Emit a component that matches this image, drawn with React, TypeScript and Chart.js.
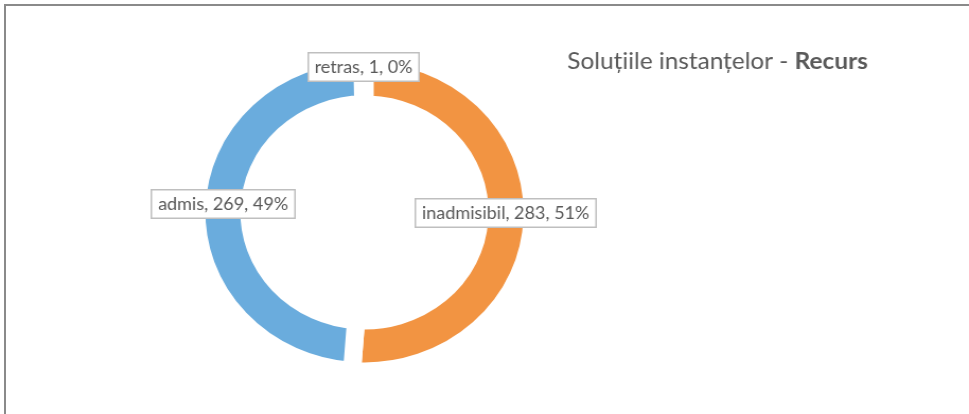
import { useEffect, useRef } from "react";
import { Chart, registerables } from "chart.js";

Chart.register(...registerables);

const categories = ["inadmisibil", "admis", "retras"];
const values = [283, 269, 1];
const colors = ["#F29442", "#6AACDD", "#A5A5A5"];
const titleNormal = "Soluțiile instanțelor - ";
const titleBold = "Recurs";

const FONT = "Lato, 'Open Sans', sans-serif";
const W = 914;
const H = 414;
const SX = 969 / W;

const labelPlugin = {
  id: "sliceLabels",
  afterDatasetsDraw(chart: any) {
    const ctx = chart.ctx as CanvasRenderingContext2D;
    const meta = chart.getDatasetMeta(0);
    const total = values.reduce((a, b) => a + b, 0);
    ctx.save();
    ctx.font = `17px ${FONT}`;
    meta.data.forEach((arc: any, i: number) => {
      const p = arc.getProps(["x", "y", "startAngle", "endAngle", "innerRadius", "outerRadius"], true);
      const mid = (p.startAngle + p.endAngle) / 2;
      let r = (p.innerRadius + p.outerRadius) / 2;
      if (p.endAngle - p.startAngle < 0.1) r += 8;
      const cx = p.x + Math.cos(mid) * r;
      const cy = p.y + Math.sin(mid) * r - 4;
      const text = `${categories[i]}, ${values[i]}, ${Math.round((values[i] / total) * 100)}%`;
      const tw = ctx.measureText(text).width;
      const bw = Math.round(tw + 14);
      const bh = 30;
      const bx = Math.round(cx - bw / 2);
      const by = Math.round(cy - bh / 2);
      ctx.fillStyle = "#ffffff";
      ctx.fillRect(bx, by, bw, bh);
      ctx.strokeStyle = "#BFBFBF";
      ctx.lineWidth = 1.5;
      ctx.strokeRect(bx + 0.75, by + 0.75, bw - 1.5, bh - 1.5);
      ctx.fillStyle = "#595959";
      ctx.textAlign = "center";
      ctx.textBaseline = "middle";
      ctx.fillText(text, bx + bw / 2, by + bh / 2 + 1);
    });
    ctx.textAlign = "left";
    ctx.textBaseline = "alphabetic";
    ctx.fillStyle = "#595959";
    ctx.font = `23px ${FONT}`;
    const tx = 535;
    const ty = 69;
    ctx.fillText(titleNormal, tx, ty);
    const w1 = ctx.measureText(titleNormal).width;
    ctx.font = `bold 23px ${FONT}`;
    ctx.fillText(titleBold, tx + w1, ty);
    ctx.restore();
  },
};

export default function App() {
  const ref = useRef<HTMLCanvasElement>(null);
  useEffect(() => {
    document.body.style.margin = "0";
    const chart = new Chart(ref.current!, {
      type: "doughnut",
      data: {
        labels: categories,
        datasets: [
          {
            data: values,
            backgroundColor: colors,
            borderColor: "#ffffff",
            borderWidth: 17,
            hoverOffset: 0,
          },
        ],
      },
      options: {
        animation: false,
        responsive: false,
        maintainAspectRatio: false,
        radius: 158.5,
        cutout: "68.5%",
        events: [],
        layout: { padding: { left: 0, right: 226.4, top: 10.8, bottom: 0 } },
        plugins: {
          legend: { display: false },
          tooltip: { enabled: false },
          title: { display: false },
        },
      } as any,
      plugins: [labelPlugin],
    });
    return () => chart.destroy();
  }, []);
  return (
    <div style={{ position: "fixed", left: 0, top: 0, width: 969, height: 414, overflow: "hidden", background: "#fff" }}>
      <div style={{ position: "absolute", left: 0, top: 0, width: W, height: H, transform: `scaleX(${SX})`, transformOrigin: "0 0" }}>
        <canvas ref={ref} width={W} height={H} style={{ width: W, height: H, display: "block" }} />
      </div>
      <div
        style={{
          position: "absolute",
          left: 4,
          top: 4,
          right: -10,
          bottom: -10,
          borderTop: "2px solid #8a8a8a",
          borderLeft: "2px solid #8a8a8a",
        }}
      />
    </div>
  );
}
